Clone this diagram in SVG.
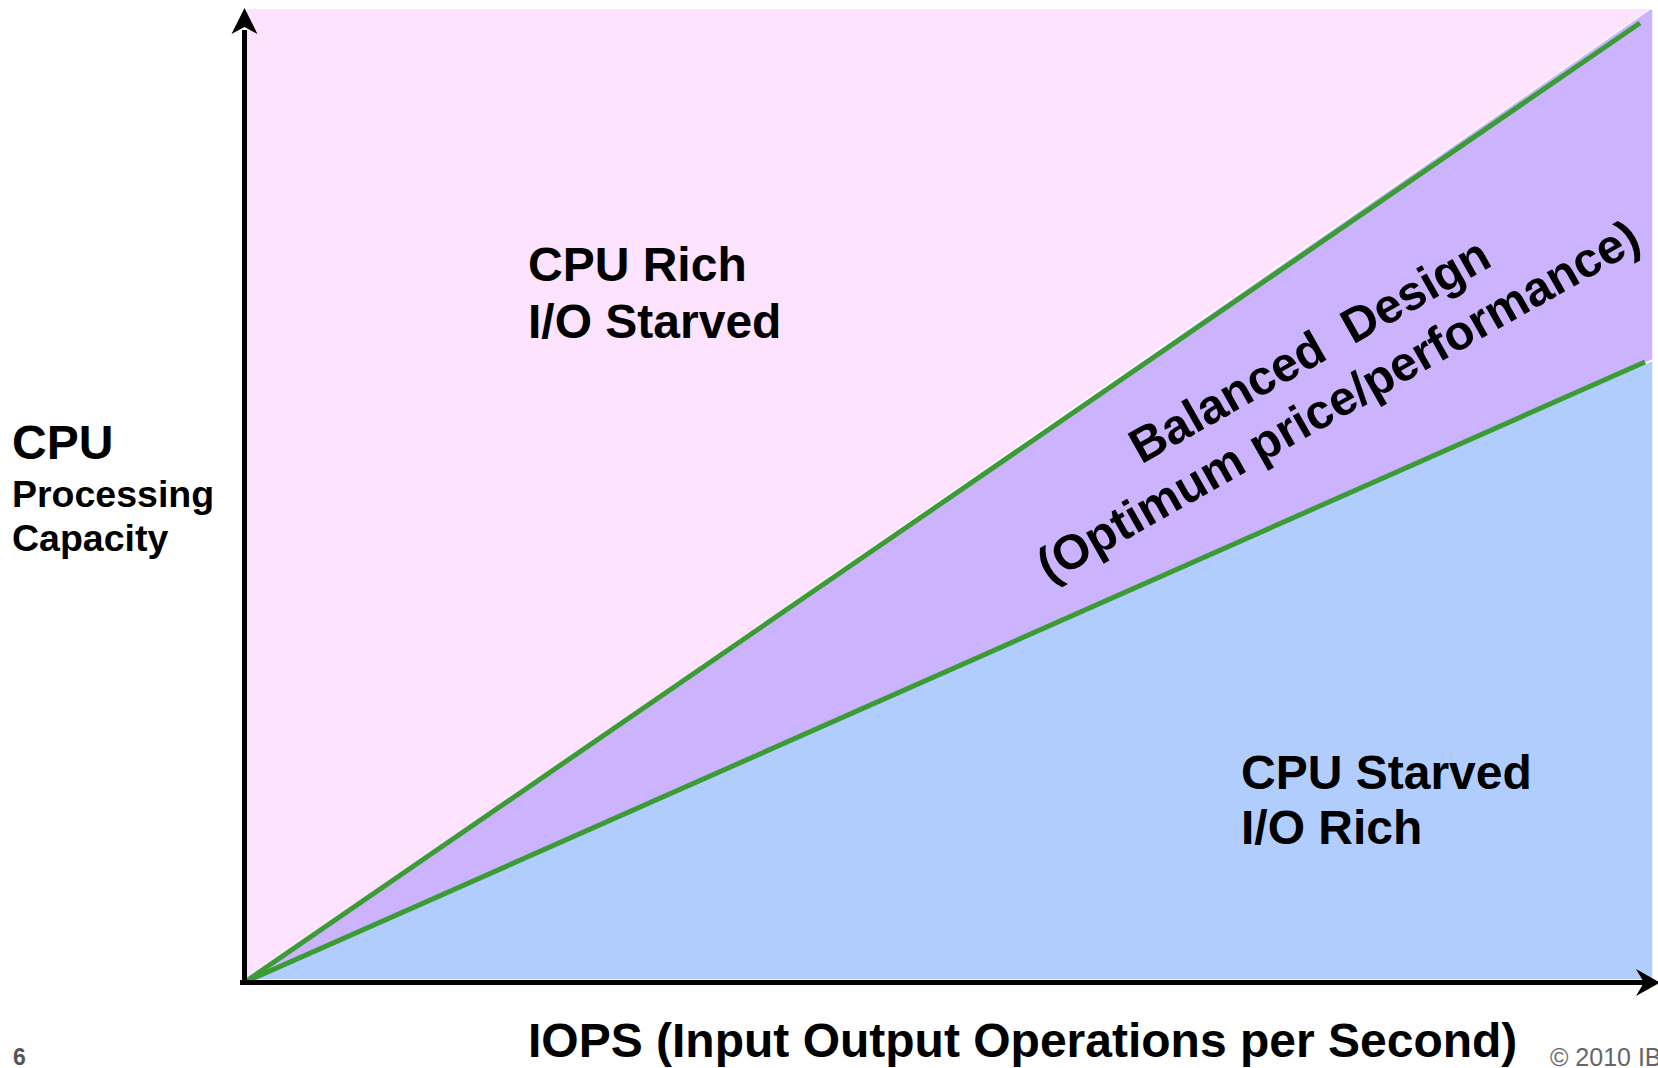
<svg xmlns="http://www.w3.org/2000/svg" width="1658" height="1068" viewBox="0 0 1658 1068">
  <style>
    .lbl { font-family: "Liberation Sans", Arial, sans-serif; font-weight: bold; fill: #000; }
    .big { font-size: 48px; }
    .bal { font-size: 48.6px; }
    .mid { font-size: 37.5px; }
    .foot { font-family: "Liberation Sans", Arial, sans-serif; fill: #666; font-size: 25px; }
    .green { stroke: #3b9b35; stroke-width: 5; fill: none; stroke-linecap: butt; }
    .axis { stroke: #000; stroke-width: 5; fill: none; }
  </style>

  <rect width="1658" height="1068" fill="#ffffff"/>

  <g id="regions">
    <rect id="region-cpu-rich" x="247" y="9" width="1406" height="972" fill="#fde3fe"/>
    <polygon id="region-balanced" points="247,981 1650,9 1653,9 1653,360" fill="#ccb3fd" stroke="#ffffff" stroke-width="1.5" stroke-linejoin="round"/>
    <polygon id="region-io-rich" points="247,981 1653,360 1653,980 247,980" fill="#b1cdfe" stroke="#ffffff" stroke-width="1.5"/>
  </g>

  <g id="connectors">
    <line class="green" x1="245" y1="982" x2="1640" y2="23"/>
    <line class="green" x1="245" y1="982" x2="1645" y2="362"/>
    <line class="axis" x1="244.5" y1="984" x2="244.5" y2="30"/>
    <path d="M244.5,8 L257.5,34 L244.5,27 L231.5,34 Z" fill="#000"/>
    <line class="axis" x1="240" y1="982.5" x2="1645" y2="982.5"/>
    <path d="M1660,982.5 L1636,969 L1644,982.5 L1636,996 Z" fill="#000"/>
  </g>

  <g id="node-cpu-rich">
    <text class="lbl big" x="528" y="281">CPU Rich</text>
    <text class="lbl big" x="528" y="338">I/O Starved</text>
  </g>

  <g id="node-cpu-starved">
    <text class="lbl big" x="1241" y="789">CPU Starved</text>
    <text class="lbl big" x="1241" y="844">I/O Rich</text>
  </g>

  <g id="node-balanced" transform="translate(1324,376) rotate(-29.5)">
    <text class="lbl bal" x="0" y="-13" text-anchor="middle" xml:space="preserve">Balanced  Design</text>
    <text class="lbl bal" x="0" y="45" text-anchor="middle">(Optimum price/performance)</text>
  </g>

  <g id="node-y-label">
    <text class="lbl big" x="12" y="459">CPU</text>
    <text class="lbl mid" x="12" y="507">Processing</text>
    <text class="lbl mid" x="12" y="551">Capacity</text>
  </g>

  <g id="node-x-label">
    <text class="lbl big" x="528" y="1057">IOPS (Input Output Operations per Second)</text>
  </g>

  <g id="footer">
    <text class="foot" x="13" y="1065" style="font-weight:bold;fill:#555;font-size:23px">6</text>
    <text class="foot" x="1550" y="1066">© 2010 IBM</text>
  </g>
</svg>
